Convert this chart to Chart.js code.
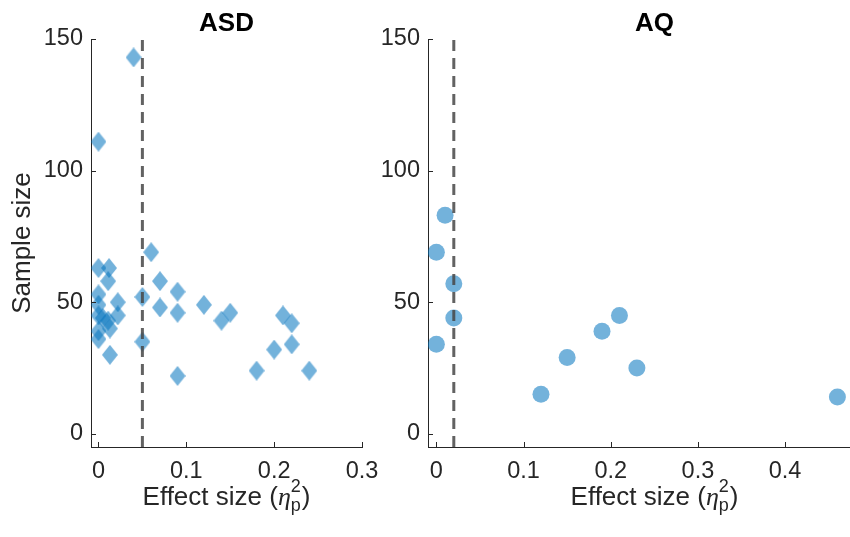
<!DOCTYPE html>
<html>
<head>
<meta charset="utf-8">
<script src="https://cdn.jsdelivr.net/npm/chart.js@4.4.0/dist/chart.umd.min.js"></script>
<style>
  html, body { margin: 0; padding: 0; background: #fff; overflow: hidden; }
  #wrap { position: relative; width: 850px; height: 537px; overflow: hidden; }
  canvas { position: absolute; top: 0; }
  #asdChart { left: 0; }
  #aqChart { left: 360px; }
</style>
</head>
<body>
<div id="wrap">
  <canvas id="asdChart" width="400" height="537"></canvas>
  <canvas id="aqChart" width="580" height="537"></canvas>
</div>
<script>
"use strict";

// ASD panel: effect size vs sample size
var asdEffect = [0.04, 0, 0, 0.012, 0.011, 0, 0.022, 0, 0, 0.022, 0.005, 0.011, 0, 0.013, 0, 0.013,
                 0.06, 0.07, 0.09, 0.05, 0.07, 0.09, 0.12, 0.14, 0.15, 0.05, 0.09,
                 0.21, 0.22, 0.22, 0.20, 0.18, 0.24];
var asdSample = [143, 111, 63, 63, 58, 53, 50, 49, 45, 45, 44, 43, 39, 40, 36, 30,
                 69, 58, 54, 52, 48, 46, 49, 43, 46, 35, 22,
                 45, 42, 34, 32, 24, 24];

// AQ panel
var aqEffect = [0.01, 0, 0.02, 0.02, 0, 0.21, 0.19, 0.15, 0.23, 0.12, 0.46];
var aqSample = [83, 69, 57, 44, 34, 45, 39, 29, 25, 15, 14];

// dashed reference lines
var asdCutoff = 0.05;
var aqCutoff = 0.02;

var asdXTicks = [0, 0.1, 0.2, 0.3];
var aqXTicks = [0, 0.1, 0.2, 0.3, 0.4, 0.5];
var yTicks = [0, 50, 100, 150];

var FONT = '"Liberation Sans", Arial, sans-serif';
var INK = '#262626';
var FILL = 'rgba(0,114,189,0.55)';
Chart.defaults.font.family = FONT;

// MATLAB diamonds are taller than wide, so draw one as the point image
function diamond(w, h) {
    var c = document.createElement('canvas');
    c.width = w;
    c.height = h;
    var g = c.getContext('2d');
    g.fillStyle = FILL;
    g.beginPath();
    g.moveTo(w / 2, 0);
    g.lineTo(w, h / 2);
    g.lineTo(w / 2, h);
    g.lineTo(0, h / 2);
    g.closePath();
    g.fill();
    return c;
}

// ticks pointing into the axes
var innerTicks = {
    id: 'innerTicks',
    afterDraw: function(chart) {
        var ctx = chart.ctx, a = chart.chartArea;
        var sx = chart.scales.x, sy = chart.scales.y;
        ctx.save();
        ctx.strokeStyle = INK;
        ctx.lineWidth = 1;
        ctx.beginPath();
        sx.ticks.forEach(function(t) {
            var p = Math.round(sx.getPixelForValue(t.value)) + 0.5;
            ctx.moveTo(p, a.bottom);
            ctx.lineTo(p, a.bottom - 5);
        });
        sy.ticks.forEach(function(t) {
            var p = Math.round(sy.getPixelForValue(t.value)) + 0.5;
            ctx.moveTo(a.left, p);
            ctx.lineTo(a.left + 5, p);
        });
        ctx.stroke();
        ctx.restore();
    }
};

// x label with stacked super/subscript: Effect size (eta_p^2)
var etaLabel = {
    id: 'etaLabel',
    afterDraw: function(chart) {
        var ctx = chart.ctx, a = chart.chartArea;
        var base = 505;
        var mainFont = '26px ' + FONT;
        var etaFont = 'italic 26px "Liberation Serif", serif';
        var smallFont = '18px ' + FONT;
        ctx.save();
        ctx.fillStyle = INK;
        ctx.textBaseline = 'alphabetic';
        ctx.textAlign = 'left';
        ctx.font = mainFont;
        var w1 = ctx.measureText('Effect size (').width;
        var w4 = ctx.measureText(')').width;
        ctx.font = etaFont;
        var w2 = ctx.measureText('\u03B7').width;
        ctx.font = smallFont;
        var w3 = Math.max(ctx.measureText('2').width, ctx.measureText('p').width);
        var total = w1 + w2 + w3 + w4 + 1;
        var x = (a.left + a.right) / 2 - total / 2;
        ctx.font = mainFont;
        ctx.fillText('Effect size (', x, base);
        x += w1;
        ctx.font = etaFont;
        ctx.fillText('\u03B7', x, base);
        x += w2;
        ctx.font = smallFont;
        ctx.fillText('2', x, base - 13);
        ctx.fillText('p', x, base + 6);
        x += w3 + 1;
        ctx.font = mainFont;
        ctx.fillText(')', x, base);
        ctx.restore();
    }
};

function makePanel(id, title, xs, ys, style, radius, cutoff, xMin, xMax, xTicks, yWidth, padRight, showYTitle) {
    var pts = xs.map(function(v, i) { return {x: v, y: ys[i]}; });
    return new Chart(document.getElementById(id), {
        data: {
            datasets: [{
                type: 'line',
                data: [{x: cutoff, y: -5}, {x: cutoff, y: 150}],
                borderColor: 'rgba(70,70,70,0.85)',
                borderWidth: 3,
                borderDash: [11, 7],
                pointRadius: 0,
                order: 0
            }, {
                type: 'scatter',
                data: pts,
                pointStyle: style,
                pointRadius: radius,
                pointHoverRadius: radius,
                backgroundColor: FILL,
                borderWidth: 0,
                order: 1
            }]
        },
        options: {
            responsive: false,
            animation: false,
            events: [],
            layout: { padding: { left: 0, right: padRight, top: 0, bottom: 0 } },
            plugins: { legend: { display: false }, tooltip: { enabled: false } },
            scales: {
                x: {
                    type: 'linear',
                    position: 'bottom',
                    min: xMin,
                    max: xMax,
                    afterBuildTicks: function(s) { s.ticks = xTicks.map(function(v) { return {value: v}; }); },
                    afterFit: function(s) { s.height = 90; },
                    grid: { display: false, drawTicks: false },
                    border: { display: true, color: INK, width: 1 },
                    ticks: {
                        color: INK,
                        font: { size: 23.5 },
                        padding: 10,
                        maxRotation: 0,
                        callback: function(v) { return String(+v.toFixed(1)); }
                    }
                },
                xt: {
                    type: 'linear',
                    position: 'top',
                    afterFit: function(s) { s.height = 39; },
                    grid: { display: false, drawTicks: false },
                    border: { display: false },
                    ticks: { display: false },
                    title: {
                        display: true,
                        text: title,
                        color: '#000',
                        font: { size: 26, weight: 'bold' },
                        padding: { top: 8, bottom: 0 }
                    }
                },
                y: {
                    type: 'linear',
                    min: -5,
                    max: 150,
                    afterBuildTicks: function(s) { s.ticks = yTicks.map(function(v) { return {value: v}; }); },
                    afterFit: function(s) { s.width = yWidth; },
                    grid: { display: false, drawTicks: false },
                    border: { display: true, color: INK, width: 1 },
                    ticks: { color: INK, font: { size: 23.5 }, padding: 8 },
                    title: {
                        display: showYTitle,
                        text: 'Sample size',
                        color: INK,
                        font: { size: 26 },
                        padding: { top: 7, bottom: 0 }
                    }
                }
            }
        },
        plugins: [innerTicks, etaLabel]
    });
}

makePanel('asdChart', 'ASD', asdEffect, asdSample, diamond(16, 20), 10, asdCutoff,
          -0.0085, 0.3, asdXTicks, 91, 38, true);
makePanel('aqChart', 'AQ', aqEffect, aqSample, 'circle', 8.5, aqCutoff,
          -0.0096, 0.51, aqXTicks, 68, 59, false);
</script>
</body>
</html>
